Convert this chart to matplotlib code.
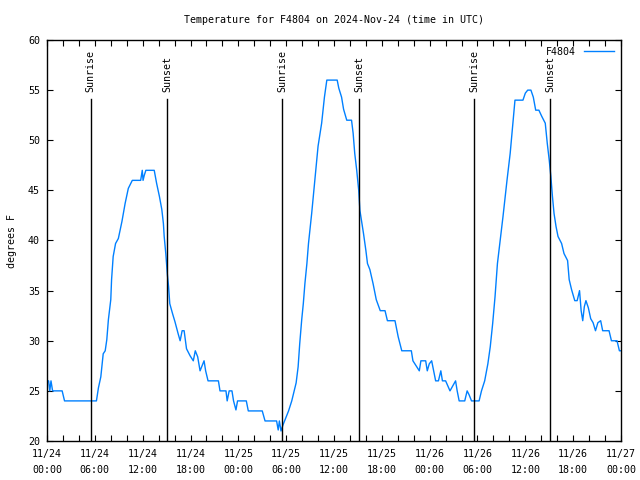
import matplotlib
matplotlib.use("Agg")
import matplotlib.pyplot as plt

# hours since 2024-11-24 00:00 UTC, temperature in F
hours = [
    0.0, 0.2, 0.35, 0.5, 0.7, 1.9, 2.2, 6.2, 6.45, 6.75, 7.05, 7.3, 7.5, 7.7,
    8.0, 8.1, 8.3, 8.6, 8.95, 9.4, 9.8, 10.2, 10.7, 11.75, 11.95, 12.05, 12.2,
    12.4, 13.45, 13.75, 14.1, 14.4, 14.6, 14.7, 14.9, 15.1, 15.25, 15.4, 15.75,
    16.05, 16.45, 16.7, 16.95, 17.2, 17.5, 17.95, 18.35, 18.6, 18.9, 19.2, 19.7,
    19.9, 20.2, 21.5, 21.7, 22.45, 22.6, 22.85, 23.2, 23.4, 23.7, 23.9, 25.0,
    25.25, 27.0, 27.35, 28.8, 29.0, 29.15, 29.35, 29.6, 29.8, 30.3, 30.7, 31.0,
    31.25, 31.5, 31.7, 31.95, 32.15, 32.35, 32.6, 32.8, 33.2, 33.6, 34.0, 34.45,
    34.8, 35.1, 36.4, 36.6, 36.95, 37.2, 37.6, 38.2, 38.4, 38.6, 38.85, 39.1,
    39.25, 39.5, 39.7, 40.0, 40.2, 40.5, 40.9, 41.3, 41.8, 42.4, 42.7, 43.65,
    44.05, 44.5, 45.7, 45.9, 46.3, 46.7, 46.9, 47.5, 47.7, 47.95, 48.25, 48.5,
    48.75, 49.1, 49.4, 49.6, 50.0, 50.55, 50.9, 51.25, 51.45, 51.7, 52.4, 52.7,
    52.95, 53.25, 54.2, 54.5, 54.9, 55.3, 55.6, 55.9, 56.2, 56.5, 56.8, 57.2,
    57.7, 58.1, 58.4, 58.7, 59.7, 60.0, 60.3, 60.7, 61.0, 61.3, 61.7, 62.05,
    62.3, 62.5, 62.75, 63.0, 63.2, 63.4, 63.6, 63.85, 64.1, 64.55, 64.85, 65.3,
    65.5, 65.8, 66.2, 66.5, 66.8, 67.0, 67.2, 67.4, 67.6, 67.9, 68.2, 68.5,
    68.8, 69.1, 69.45, 69.7, 70.5, 70.8, 71.5, 71.8, 72.0,
]
temps = [
    26, 26, 25, 26, 25, 25, 24, 24, 25.3, 26.4, 28.7, 29, 30.1, 32.1,
    34.1, 36.1, 38.4, 39.7, 40.2, 41.9, 43.7, 45.2, 46, 46, 47, 46, 46.5,
    47, 47, 45.7, 44.4, 43.1, 41.7, 40.4, 38.7, 36.6, 35.4, 33.7, 32.7,
    31.9, 30.7, 30.0, 31, 31, 29.2, 28.5, 28, 29, 28.4, 27, 28,
    27, 26, 26, 25, 25, 24, 25, 25, 24, 23.1, 24, 24,
    23, 23, 22, 22, 21.1, 22, 21, 21.6, 22, 23, 24, 25,
    25.8, 27.4, 29.7, 32.1, 33.7, 35.7, 37.7, 39.7, 42.7, 46, 49.4, 51.7,
    54.3, 56, 56, 55.2, 54.3, 53.1, 52, 52, 50.7, 48.7, 47, 45,
    43, 41.7, 40.7, 39, 37.7, 37.1, 35.7, 34.1, 33, 33, 32, 32,
    30.4, 29, 29, 28, 27.5, 27, 28, 28, 27, 27.7, 28, 27,
    26, 26, 27, 26, 26, 25, 25.5, 26, 25, 24, 24, 25,
    24.6, 24, 24, 25, 26, 27.7, 29.4, 31.7, 34.4, 37.7, 39.7, 42.4,
    46, 48.7, 51.4, 54, 54, 54.7, 55, 55, 54.3, 53, 53, 52.4,
    52, 51.7, 49.7, 48, 46.4, 44.4, 42.7, 41.4, 40.4, 39.7, 38.7, 38,
    36.1, 35.1, 34, 34, 35, 33, 32, 33.4, 34, 33.3, 32.2, 31.8,
    31, 31.8, 32, 31, 31, 30, 30, 29, 29,
]

sunrise_hours = [5.5, 29.5, 53.6]
sunset_hours = [15.05, 39.15, 63.1]

tick_hours = list(range(0, 73, 6))
tick_labels = [
    "11/24\n00:00", "11/24\n06:00", "11/24\n12:00", "11/24\n18:00",
    "11/25\n00:00", "11/25\n06:00", "11/25\n12:00", "11/25\n18:00",
    "11/26\n00:00", "11/26\n06:00", "11/26\n12:00", "11/26\n18:00",
    "11/27\n00:00",
]

FONT = "DejaVu Sans Mono"
plt.rcParams["font.family"] = FONT
plt.rcParams["font.size"] = 7.2

fig = plt.figure(figsize=(6.4, 4.8), dpi=100, facecolor="white")
ax = fig.add_axes([47 / 640, 39 / 480, 574 / 640, 401 / 480])

ax.plot(hours, temps, color="#0080ff", lw=1.0, label="F4804", zorder=2)

for h in sunrise_hours + sunset_hours:
    ax.axvline(h, ymin=0, ymax=0.853, color="black", lw=1.0, zorder=3)
for h in sunrise_hours:
    ax.text(h, 0.87, "Sunrise", transform=ax.get_xaxis_transform(),
            rotation=90, ha="center", va="bottom")
for h in sunset_hours:
    ax.text(h, 0.87, "Sunset", transform=ax.get_xaxis_transform(),
            rotation=90, ha="center", va="bottom")

ax.set_xlim(0, 72)
ax.set_ylim(20, 60)
ax.set_xticks(tick_hours)
ax.set_xticklabels(tick_labels, linespacing=1.75)
ax.set_xticks(range(0, 73, 2), minor=True)
ax.set_yticks(range(20, 61, 5))
ax.tick_params(which="both", direction="in", top=True, right=True,
               length=4, width=0.8)
ax.tick_params(axis="x", pad=6)
ax.tick_params(axis="y", pad=5)
for s in ax.spines.values():
    s.set_linewidth(1.0)

ax.set_ylabel("degrees F", labelpad=8)
ax.set_title("Temperature for F4804 on 2024-Nov-24 (time in UTC)",
             fontsize=7.2, pad=12)

leg = ax.legend(loc="upper right", frameon=False, handlelength=3.0,
                handletextpad=0.8, markerfirst=False, borderaxespad=0.3)

fig.savefig("out.png", dpi=100)
